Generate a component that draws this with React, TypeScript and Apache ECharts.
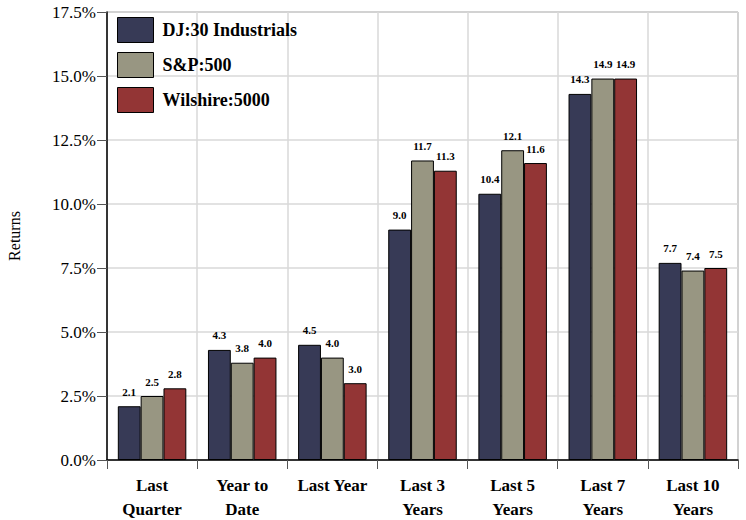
import React, { useEffect, useRef } from "react";
import * as echarts from "echarts";

const categories = ["Last\nQuarter", "Year to\nDate", "Last Year", "Last 3\nYears", "Last 5\nYears", "Last 7\nYears", "Last 10\nYears"];
const seriesNames = ["DJ:30 Industrials", "S&P:500", "Wilshire:5000"];
const dj30 = [2.1, 4.3, 4.5, 9.0, 10.4, 14.3, 7.7];
const sp500 = [2.5, 3.8, 4.0, 11.7, 12.1, 14.9, 7.4];
const wilshire = [2.8, 4.0, 3.0, 11.3, 11.6, 14.9, 7.5];
const colors = ["#373a56", "#989682", "#933535"];

const FONT = "Liberation Serif, Times New Roman, serif";

export default function App() {
  const ref = useRef<HTMLDivElement>(null);
  useEffect(() => {
    if (!ref.current) return;
    const chart = echarts.init(ref.current, undefined, { renderer: "svg" });
    const values = [dj30, sp500, wilshire];
    chart.setOption({
      animation: false,
      textStyle: { fontFamily: FONT },
      grid: {
        left: 107,
        right: 8,
        top: 12,
        bottom: 60,
        show: true,
        borderColor: "#7f7f7f",
        borderWidth: 1,
        containLabel: false,
        outerBoundsMode: "none",
      },
      legend: {
        orient: "vertical",
        left: 112,
        top: 12,
        itemWidth: 36,
        itemHeight: 25,
        itemGap: 9,
        icon: "rect",
        itemStyle: { borderColor: "#000", borderWidth: 1 },
        textStyle: { fontFamily: FONT, fontWeight: "bold", fontSize: 18, color: "#000", padding: [10, 0, 0, 4] },
        data: seriesNames,
      },
      xAxis: {
        type: "category",
        data: categories,
        axisLine: { lineStyle: { color: "#000", width: 1.5 } },
        axisTick: { show: true, length: 9, alignWithLabel: false, lineStyle: { color: "#555" } },
        splitLine: { show: true, lineStyle: { color: "#d9d9d9", width: 1.5 } },
        axisLabel: {
          fontFamily: FONT,
          fontWeight: "bold",
          fontSize: 17,
          color: "#000",
          lineHeight: 24,
          margin: 13,
          interval: 0,
        },
      },
      yAxis: {
        type: "value",
        min: 0,
        max: 17.5,
        interval: 2.5,
        name: "Returns",
        nameLocation: "middle",
        nameGap: 81,
        nameTextStyle: { fontFamily: FONT, fontSize: 16, color: "#000", padding: [0, 0, 4, 0] },
        axisLine: { show: true, lineStyle: { color: "#000", width: 1.5 } },
        axisTick: { show: true, length: 10, lineStyle: { color: "#555" } },
        splitLine: { show: true, lineStyle: { color: "#d9d9d9", width: 1.5 } },
        axisLabel: {
          fontFamily: FONT,
          fontSize: 17,
          color: "#000",
          margin: 11,
          formatter: (v: number) => v.toFixed(1) + "%",
        },
      },
      series: seriesNames.map((name, i) => ({
        name,
        type: "bar",
        data: values[i],
        barGap: "0%",
        barCategoryGap: "24%",
        itemStyle: { color: colors[i], borderColor: "#000", borderWidth: 1 },
        label: {
          show: true,
          position: "top",
          distance: 9,
          fontFamily: FONT,
          fontWeight: "bold",
          fontSize: 11,
          color: "#000",
          formatter: (p: any) => Number(p.value).toFixed(1),
        },
      })),
    });
    return () => chart.dispose();
  }, []);
  return <div ref={ref} style={{ width: 746, height: 520, position: "absolute", left: 0, top: 0 }} />;
}
